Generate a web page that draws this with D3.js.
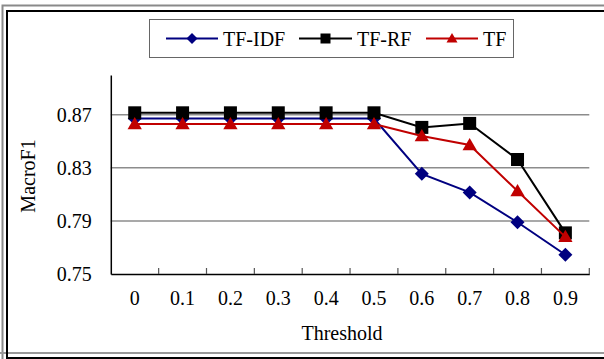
<!DOCTYPE html>
<html>
<head>
<meta charset="utf-8">
<script src="https://cdn.jsdelivr.net/npm/d3@7"></script>
<style>
  html, body { margin: 0; padding: 0; background: #fff; }
</style>
</head>
<body>
<svg id="chart" width="604" height="359"></svg>
<script>
const categories = ["0", "0.1", "0.2", "0.3", "0.4", "0.5", "0.6", "0.7", "0.8", "0.9"];
const tfidf = [0.8672, 0.8672, 0.8672, 0.8672, 0.8672, 0.8672, 0.8255, 0.8115, 0.789, 0.7645];
const tfrf  = [0.8715, 0.8715, 0.8715, 0.8715, 0.8715, 0.8715, 0.8605, 0.8635, 0.8363, 0.781];
const tf    = [0.8630, 0.8630, 0.8630, 0.8630, 0.8630, 0.8630, 0.854, 0.8473, 0.8125, 0.778];
const yTicks = [0.75, 0.79, 0.83, 0.87];
const seriesNames = ["TF-IDF", "TF-RF", "TF"];

const FONT = "'Liberation Serif', 'Times New Roman', Times, 'DejaVu Serif', serif";

const series = [
  { name: seriesNames[0], values: tfidf, color: "#000080", shape: "diamond" },
  { name: seriesNames[1], values: tfrf,  color: "#000000", shape: "square" },
  { name: seriesNames[2], values: tf,    color: "#C00000", shape: "triangle" }
];

const svg = d3.select("#chart");

// outer frames
svg.append("path").attr("d", "M2.5,360 V5.5 H606").attr("fill", "none").attr("stroke", "#8a8a8a").attr("stroke-width", 2);
svg.append("path").attr("d", "M0,353 H606").attr("fill", "none").attr("stroke", "#999").attr("stroke-width", 2);
svg.append("rect").attr("x", 7).attr("y", 11).attr("width", 610).attr("height", 347)
  .attr("fill", "none").attr("stroke", "#000").attr("stroke-width", 2);

const pLeft = 110.8, pRight = 589.3, pTop = 75, pBottom = 274;
const x = d3.scaleBand().domain(categories).range([pLeft, pRight]).padding(0);
const y = d3.scaleLinear().domain([0.75, 0.90]).range([pBottom, pTop]);
const cx = c => x(c) + x.bandwidth() / 2;

// gridlines
svg.append("g").selectAll("line").data(yTicks.filter(t => t > 0.75)).join("line")
  .attr("x1", pLeft).attr("x2", pRight)
  .attr("y1", d => y(d)).attr("y2", d => y(d))
  .attr("stroke", "#8c8c8c").attr("stroke-width", 1.5);

// y axis
const yAxis = d3.axisLeft(y).tickValues(yTicks).tickSize(0).tickPadding(19).tickFormat(d3.format(".2f"));
const gy = svg.append("g").attr("transform", `translate(${pLeft},0)`).call(yAxis);
gy.attr("font-family", null);
gy.select(".domain").attr("stroke", "#000").attr("stroke-width", 1.5);
gy.selectAll("text").attr("font-size", 20).attr("fill", "#000").style("font-family", FONT);

// x axis
const xAxis = d3.axisBottom(x).tickSize(0).tickPadding(17);
const gx = svg.append("g").attr("transform", `translate(0,${pBottom})`).call(xAxis);
gx.attr("font-family", null);
gx.select(".domain").attr("stroke", "#000").attr("stroke-width", 1.5);
gx.selectAll("text").attr("font-size", 20).attr("fill", "#000").style("font-family", FONT);
// inward tick marks at band boundaries
const bounds = categories.slice(1).map(c => x(c)).concat([x.range()[1]]);
svg.append("g").selectAll("line").data(bounds).join("line")
  .attr("x1", d => d).attr("x2", d => d)
  .attr("y1", pBottom).attr("y2", pBottom - 6)
  .attr("stroke", "#555").attr("stroke-width", 1.2);

// axis titles
svg.append("text").attr("x", 342).attr("y", 340).attr("text-anchor", "middle")
  .attr("font-size", 20).style("font-family", FONT).text("Threshold");
svg.append("text").attr("transform", "translate(35,176) rotate(-90)").attr("text-anchor", "middle")
  .attr("font-size", 20).style("font-family", FONT).text("MacroF1");

function marker(g, shape, color, size) {
  const s = size / 2;
  if (shape === "diamond") {
    g.append("path").attr("d", `M0,${-s} L${s},0 L0,${s} L${-s},0 Z`).attr("fill", color);
  } else if (shape === "square") {
    g.append("rect").attr("x", -s).attr("y", -s).attr("width", size).attr("height", size).attr("fill", color);
  } else {
    const h = size * 0.9;
    g.append("path").attr("d", `M0,${-h * 0.6} L${s * 1.1},${h * 0.45} L${-s * 1.1},${h * 0.45} Z`).attr("fill", color);
  }
}

const line = d3.line().x((d, i) => cx(categories[i])).y(d => y(d));
series.forEach(s => {
  const g = svg.append("g");
  g.append("path").datum(s.values).attr("d", line)
    .attr("fill", "none").attr("stroke", s.color).attr("stroke-width", 2);
  s.values.forEach((v, i) => {
    const m = g.append("g").attr("transform", `translate(${cx(categories[i])},${y(v)})`);
    marker(m, s.shape, s.color, s.shape === "diamond" ? 14 : 13);
  });
});

// legend
svg.append("rect").attr("x", 149.5).attr("y", 19.5).attr("width", 364).attr("height", 38)
  .attr("fill", "#fff").attr("stroke", "#666").attr("stroke-width", 1);
const legendItems = [
  { x1: 166, x2: 218, tx: 223 },
  { x1: 299, x2: 352, tx: 357 },
  { x1: 426, x2: 478, tx: 483 }
];
series.forEach((s, i) => {
  const li = legendItems[i];
  const g = svg.append("g");
  g.append("line").attr("x1", li.x1).attr("x2", li.x2).attr("y1", 38.5).attr("y2", 38.5)
    .attr("stroke", s.color).attr("stroke-width", 2);
  const m = g.append("g").attr("transform", `translate(${(li.x1 + li.x2) / 2},38.5)`);
  marker(m, s.shape, s.color, s.shape === "diamond" ? 11 : 10);
  g.append("text").attr("x", li.tx).attr("y", 45.5).attr("font-size", 20).style("font-family", FONT).text(s.name);
});
</script>
</body>
</html>
